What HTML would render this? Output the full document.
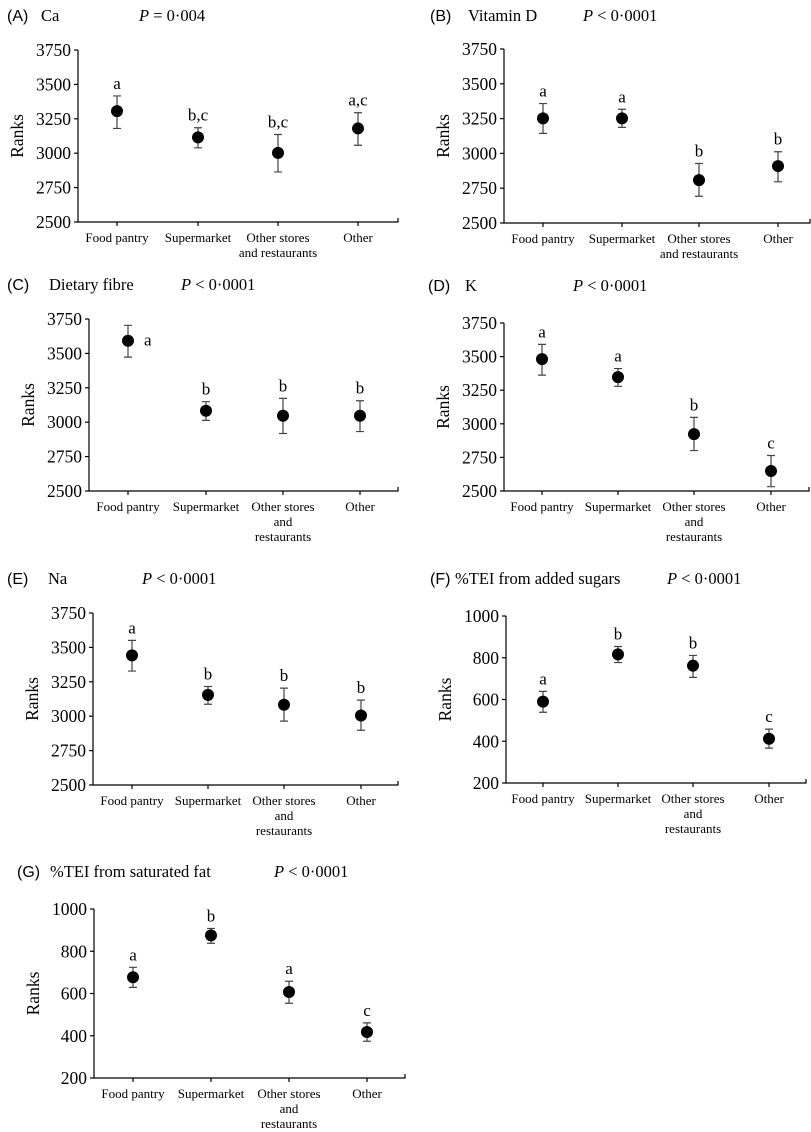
<!DOCTYPE html>
<html><head><meta charset="utf-8"><style>
html,body{margin:0;padding:0;background:#fff}
svg{display:block}
text{font-family:"Liberation Serif",serif;fill:#000}
.sans{font-family:"Liberation Sans",sans-serif}
</style></head><body>
<svg id="chart" width="811" height="1132" viewBox="0 0 811 1132" xmlns="http://www.w3.org/2000/svg"></svg>
<script>
const categories = ["Food pantry","Supermarket","Other stores and restaurants","Other"];
const ticksRank = [2500,2750,3000,3250,3500,3750];
const ticksPct = [200,400,600,800,1000];

const meanA = [3306,3115,3002,3180], hiA=[3416,3185,3136,3294], loA=[3180,3039,2864,3058], letA=["a","b,c","b,c","a,c"];
const meanB = [3252,3252,2808,2909], hiB=[3358,3317,2928,3012], loB=[3144,3187,2692,2796], letB=["a","a","b","b"];
const meanC = [3592,3083,3047,3047], hiC=[3704,3149,3173,3156], loC=[3473,3013,2918,2932], letC=["a","b","b","b"];
const meanD = [3481,3347,2923,2649], hiD=[3591,3411,3048,2764], loD=[3362,3279,2801,2532], letD=["a","a","b","c"];
const meanE = [3442,3155,3083,3005], hiE=[3551,3216,3204,3117], loE=[3328,3087,2964,2898], letE=["a","b","b","b"];
const meanF = [590,816,762,412], hiF=[639,854,811,458], loF=[539,777,706,367], letF=["a","b","b","c"];
const meanG = [677,875,607,418], hiG=[724,908,658,461], loG=[629,838,554,374], letG=["a","b","a","c"];

const NS="http://www.w3.org/2000/svg";
const svg=document.getElementById('chart');
function mk(tag,attrs,parent,txt){const e=document.createElementNS(NS,tag);for(const k in attrs)e.setAttribute(k,attrs[k]);if(txt!==undefined)e.textContent=txt;(parent||svg).appendChild(e);return e;}

const panels=[
 {id:"a",lab:"(A)",labX:7,name:"Ca",nameX:41,pX:139,pText:"= 0·004",titleY:21,ax:78,top:50,bot:222,right:398,cats:[117,198,278,358],ticks:ticksRank,mean:meanA,hi:hiA,lo:loA,let:letA,wrap:false},
 {id:"b",lab:"(B)",labX:430,name:"Vitamin D",nameX:468,pX:583,pText:"< 0·0001",titleY:21,ax:504,top:49,bot:223,right:810,cats:[543,622,699,778],ticks:ticksRank,mean:meanB,hi:hiB,lo:loB,let:letB,wrap:false},
 {id:"c",lab:"(C)",labX:7,name:"Dietary fibre",nameX:49,pX:181,pText:"< 0·0001",titleY:290,ax:89,top:319,bot:491,right:398,cats:[128,206,283,360],ticks:ticksRank,mean:meanC,hi:hiC,lo:loC,let:letC,wrap:true,sideFirst:true},
 {id:"d",lab:"(D)",labX:428,name:"K",nameX:465,pX:573,pText:"< 0·0001",titleY:291,ax:504,top:323,bot:491,right:809,cats:[542,618,694,771],ticks:ticksRank,mean:meanD,hi:hiD,lo:loD,let:letD,wrap:true},
 {id:"e",lab:"(E)",labX:7,name:"Na",nameX:48,pX:142,pText:"< 0·0001",titleY:584,ax:93,top:613,bot:785,right:398,cats:[132,208,284,361],ticks:ticksRank,mean:meanE,hi:hiE,lo:loE,let:letE,wrap:true},
 {id:"f",lab:"(F)",labX:430,name:"%TEI from added sugars",nameX:455,pX:667,pText:"< 0·0001",titleY:584,ax:506,top:616,bot:783,right:806,cats:[543,618,693,769],ticks:ticksPct,mean:meanF,hi:hiF,lo:loF,let:letF,wrap:true},
 {id:"g",lab:"(G)",labX:17,name:"%TEI from saturated fat",nameX:50,pX:274,pText:"< 0·0001",titleY:877,ax:94,top:909,bot:1078,right:405,cats:[133,211,289,367],ticks:ticksPct,mean:meanG,hi:hiG,lo:loG,let:letG,wrap:true}
];

panels.forEach(p=>{
  const g=mk('g',{});
  
  
  const t1=mk('text',{x:p.labX,y:p.titleY,'font-size':16,class:'sans'},g,p.lab);
  
  
  const t2=mk('text',{x:p.nameX,y:p.titleY,'font-size':16.5},g,p.name);
  
  
  const pt=mk('text',{x:p.pX,y:p.titleY,'font-size':16.5},g);
  
  
  mk('tspan',{'font-style':'italic'},pt,'P');
  mk('tspan',{},pt,' '+p.pText);

  const vmin=p.ticks[0], vmax=p.ticks[p.ticks.length-1];
  const y=v=>p.bot-(v-vmin)/(vmax-vmin)*(p.bot-p.top);
  const axes=mk('path',{d:`M${p.ax},${p.top} V${p.bot} H${p.right} V${p.bot-4}`,stroke:'#000','stroke-width':1.2,fill:'none'},g);
  
  
  p.ticks.forEach(v=>{
    mk('line',{x1:p.ax-4,x2:p.ax,y1:y(v),y2:y(v),stroke:'#000','stroke-width':1.2},g);
    const tl=mk('text',{x:p.ax-7,y:y(v)+6,'font-size':17.5,'text-anchor':'end'},g,String(v));
    
    
  });
  const yl=mk('text',{x:0,y:0,'font-size':17.5,'text-anchor':'middle',transform:`translate(${p.ax-55},${(p.top+p.bot)/2}) rotate(-90)`},g,'Ranks');
  
  

  categories.forEach((c,i)=>{
    const x=p.cats[i];
    mk('line',{x1:x,x2:x,y1:p.bot,y2:p.bot+4,stroke:'#000','stroke-width':1.2},g);
    let lines=[c];
    if(c.indexOf('Other stores')===0) lines=p.wrap?["Other stores","and","restaurants"]:["Other stores","and restaurants"];
    lines.forEach((ln,j)=>{
      const ct=mk('text',{x:x,y:p.bot+20+j*15,'font-size':13,'text-anchor':'middle'},g,ln);
      
      
    });
    const eb=mk('path',{d:`M${x-4},${y(p.hi[i])} H${x+4} M${x},${y(p.hi[i])} V${y(p.lo[i])} M${x-4},${y(p.lo[i])} H${x+4}`,stroke:'#444','stroke-width':1.2,fill:'none'},g);
    
    
    const dot=mk('circle',{cx:x,cy:y(p.mean[i]),r:6,fill:'#000'},g);
    
    
    let lx=x, ly=y(p.hi[i])-7, anchor='middle';
    if(p.sideFirst && i===0){lx=x+16; ly=y(p.mean[i])+5; anchor='start';}
    const lt=mk('text',{x:lx,y:ly,'font-size':17,'text-anchor':anchor},g,p.let[i]);
    
    
  });
});
</script>
</body></html>
